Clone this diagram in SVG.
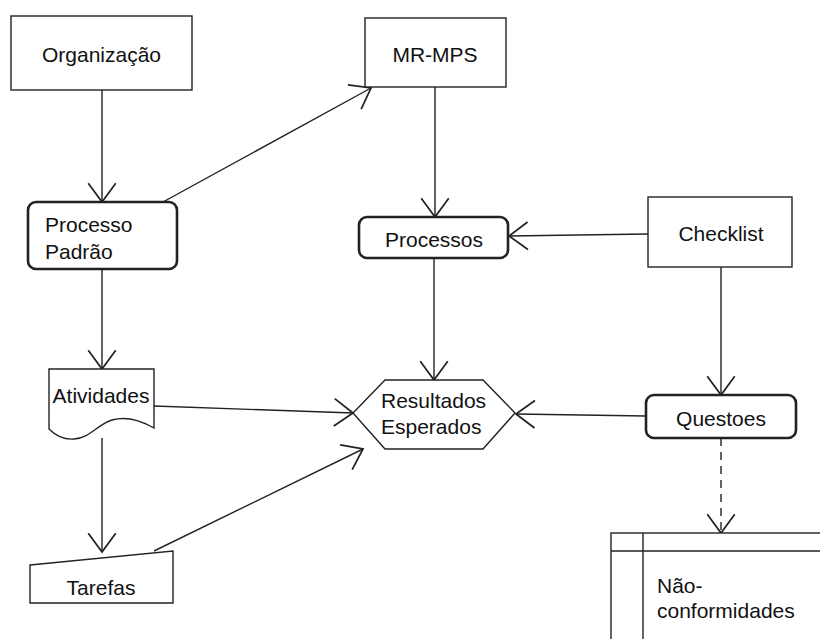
<svg xmlns="http://www.w3.org/2000/svg" width="820" height="639" viewBox="0 0 820 639">
  <style>
    .box { fill: #fff; stroke: #222; stroke-width: 1.4; }
    .thick { fill: #fff; stroke: #222; stroke-width: 2.6; }
    .lbl { font-family: "Liberation Sans", Arial, sans-serif; font-size: 21px; fill: #111; }
    .mid { text-anchor: middle; }
    .edge { fill: none; stroke: #222; stroke-width: 1.4; marker-end: url(#open); }
    .dash { stroke-dasharray: 8 6; }
  </style>
  <defs>
    <marker id="open" markerUnits="userSpaceOnUse" markerWidth="30" markerHeight="30" viewBox="-16 -12 18 24" refX="0" refY="0" orient="auto" overflow="visible">
      <path d="M-15,-11 L0,0 L-15,11" fill="none" stroke="#222" stroke-width="1.4"/>
    </marker>
  </defs>

  <!-- connectors -->
  <g id="connectors">
    <line class="edge" x1="102" y1="90" x2="102" y2="202"/>
    <line class="edge" x1="163" y1="202" x2="371" y2="88"/>
    <line class="edge" x1="435" y1="87" x2="435" y2="217"/>
    <line class="edge" x1="648" y1="234" x2="509" y2="236"/>
    <line class="edge" x1="102" y1="269" x2="102" y2="369"/>
    <line class="edge" x1="434" y1="258" x2="434" y2="380"/>
    <line class="edge" x1="721" y1="267" x2="721" y2="395"/>
    <line class="edge" x1="646" y1="416" x2="516" y2="414"/>
    <line class="edge" x1="154" y1="406" x2="353" y2="413"/>
    <line class="edge" x1="102" y1="438" x2="102" y2="552"/>
    <line class="edge" x1="154" y1="551" x2="363" y2="449"/>
    <line class="edge dash" x1="721" y1="438" x2="721" y2="533"/>
  </g>

  <g id="organizacao">
    <rect class="box" x="11" y="16" width="181" height="74"/>
    <text class="lbl mid" x="101.5" y="62">Organização</text>
  </g>

  <g id="mr-mps">
    <rect class="box" x="365" y="18" width="141" height="69"/>
    <text class="lbl mid" x="435" y="62">MR-MPS</text>
  </g>

  <g id="processo-padrao">
    <rect class="thick" x="28" y="202" width="149" height="67" rx="8"/>
    <text class="lbl" x="45" y="232">Processo</text>
    <text class="lbl" x="45" y="259">Padrão</text>
  </g>

  <g id="processos">
    <rect class="thick" x="359" y="217" width="149" height="41" rx="8"/>
    <text class="lbl mid" x="434" y="247">Processos</text>
  </g>

  <g id="checklist">
    <rect class="box" x="648" y="197" width="144" height="70"/>
    <text class="lbl mid" x="721" y="241">Checklist</text>
  </g>

  <g id="atividades">
    <path class="box" d="M49,369 L154,369 L154,428 C140,420 126,416 112,420 C98,424 90,438 74,439 C62,440 54,434 49,429 Z"/>
    <text class="lbl mid" x="101" y="403">Atividades</text>
  </g>

  <g id="resultados-esperados">
    <polygon class="box" points="353,413 385,380 483,380 515,413 483,449 385,449"/>
    <text class="lbl" x="381" y="408">Resultados</text>
    <text class="lbl" x="381" y="434">Esperados</text>
  </g>

  <g id="questoes">
    <rect class="thick" x="646" y="395" width="150" height="43" rx="8"/>
    <text class="lbl mid" x="721" y="426">Questoes</text>
  </g>

  <g id="tarefas">
    <polygon class="box" points="30,565 173,551 173,603 30,603"/>
    <text class="lbl mid" x="101" y="595">Tarefas</text>
  </g>

  <g id="nao-conformidades">
    <rect class="box" x="611" y="533" width="220" height="120"/>
    <line x1="611" y1="551" x2="831" y2="551" stroke="#222" stroke-width="1.4"/>
    <line x1="643" y1="533" x2="643" y2="653" stroke="#222" stroke-width="1.4"/>
    <text class="lbl" x="657" y="593">Não-</text>
    <text class="lbl" x="657" y="618">conformidades</text>
  </g>
</svg>
